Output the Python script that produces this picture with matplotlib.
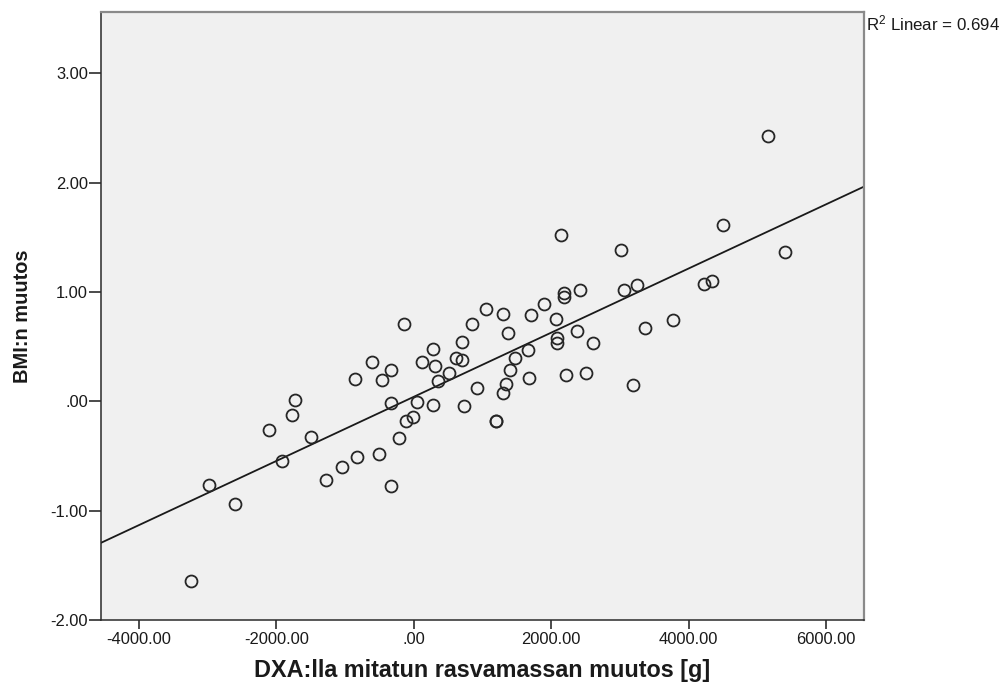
import numpy as np
import matplotlib
matplotlib.use("Agg")
import matplotlib.pyplot as plt
from matplotlib.ticker import FuncFormatter

# Change in DXA-measured fat mass [g]
dxa_change = [
    -3247, -2981, -2603, -2103, -1914, -1769, -1729, -1501, -1278, -1041,
    -856, -831, -604, -507, -459, -332, -332, -332, -215, -143,
    -114, -7, 42, 119, 284, 284, 313, 357, 517, 614,
    697, 702, 735, 847, 924, 1051, 1192, 1201, 1294, 1294,
    1338, 1371, 1400, 1469, 1658, 1681, 1710, 1891, 2070, 2080,
    2080, 2143, 2182, 2191, 2215, 2376, 2424, 2511, 2604, 3012,
    3064, 3186, 3249, 3370, 3777, 4229, 4341, 4501, 5151, 5403,
]
# Change in BMI
bmi_change = [
    -1.642, -0.769, -0.940, -0.258, -0.544, -0.121, 0.009, -0.328, -0.717, -0.605,
    0.207, -0.507, 0.359, -0.484, 0.192, 0.289, -0.015, -0.776, -0.338, 0.709,
    -0.182, -0.140, -0.005, 0.359, 0.481, -0.030, 0.323, 0.189, 0.259, 0.399,
    0.380, 0.538, -0.046, 0.706, 0.125, 0.846, -0.176, -0.182, 0.794, 0.073,
    0.155, 0.627, 0.289, 0.399, 0.465, 0.214, 0.791, 0.891, 0.755, 0.578,
    0.536, 1.521, 0.953, 0.992, 0.237, 0.642, 1.022, 0.259, 0.533, 1.381,
    1.015, 0.150, 1.065, 0.670, 0.741, 1.077, 1.104, 1.615, 2.424, 1.366,
]
x_ticks = [-4000, -2000, 0, 2000, 4000, 6000]
y_ticks = [-2, -1, 0, 1, 2, 3]
r2_text = r"R$^{2}$ Linear = 0.694"
x_label = "DXA:lla mitatun rasvamassan muutos [g]"
y_label = "BMI:n muutos"

plt.rcParams['font.family'] = ['Liberation Sans', 'DejaVu Sans']
plt.rcParams['mathtext.fontset'] = 'custom'
plt.rcParams['mathtext.rm'] = 'Liberation Sans'
plt.rcParams['mathtext.it'] = 'Liberation Sans'
plt.rcParams['mathtext.default'] = 'rm'

W, H = 1004, 684
fig = plt.figure(figsize=(W / 100, H / 100), dpi=100)
fig.patch.set_facecolor('white')
ax = fig.add_axes([101 / W, (H - 620) / H, (864 - 101) / W, (620 - 12) / H])
ax.set_facecolor('#f0f0f0')

x = np.array(dxa_change, dtype=float)
y = np.array(bmi_change, dtype=float)
xmin, xmax = -4550, 6550
ax.set_xlim(xmin, xmax)
ax.set_ylim(-2.0, 3.56)

slope, intercept = np.polyfit(x, y, 1)
xl = np.array([xmin, xmax])
ax.plot(xl, intercept + slope * xl, color='#1a1a1a', lw=1.3, zorder=2)

ax.plot(x, y, linestyle='none', marker='o', ms=8.6, mfc='none',
        mec='#262626', mew=1.3, zorder=3)


def spss_fmt(v, pos=None):
    s = f"{v:.2f}"
    if s.startswith("0."):
        s = s[1:]
    elif s.startswith("-0."):
        s = "-" + s[2:]
    if s == "-.00":
        s = ".00"
    return s


ax.set_xticks(x_ticks)
ax.set_yticks(y_ticks)
ax.xaxis.set_major_formatter(FuncFormatter(spss_fmt))
ax.yaxis.set_major_formatter(FuncFormatter(spss_fmt))
ax.tick_params(axis='both', direction='out', width=1.1,
               color='#1a1a1a', labelsize=11.9, labelcolor='#1a1a1a')
ax.tick_params(axis='x', length=6.5, pad=2)
ax.tick_params(axis='y', length=9, pad=0.5)

for side in ['left', 'bottom']:
    ax.spines[side].set_color('#2a2a2a')
    ax.spines[side].set_linewidth(1.1)
for side in ['top', 'right']:
    ax.spines[side].set_color('#8a8a8a')
    ax.spines[side].set_linewidth(1.6)

ax.set_xlabel(x_label, fontsize=16.8, fontweight='bold', color='#1a1a1a', labelpad=9)
ax.set_ylabel(y_label, fontsize=14.4, fontweight='bold', color='#1a1a1a', labelpad=13)

fig.text(866 / W, 1 - 30 / H, r2_text, fontsize=12.2, color='#1a1a1a',
         ha='left', va='baseline')

fig.savefig('out.png', dpi=100, facecolor='white')
